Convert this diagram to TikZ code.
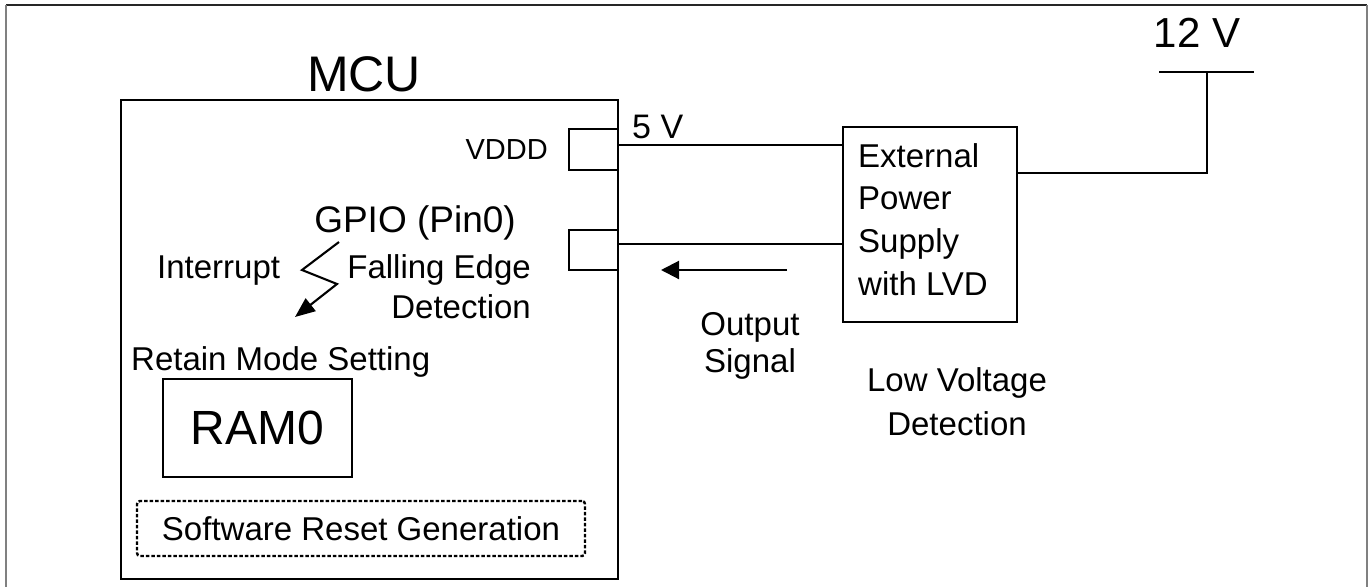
\documentclass[tikz,border=0pt]{standalone}
\usepackage{fontspec}
\setmainfont{Liberation Sans}
\usetikzlibrary{arrows.meta}
\begin{document}
\begin{tikzpicture}[x=1pt,y=-1pt,
  txt/.style={inner sep=0pt, font=\fontsize{33}{40}\selectfont},
  blk/.style={draw, line width=2.2pt, inner sep=0pt},
  pad/.style={draw, line width=2.1pt, inner sep=0pt, minimum width=49pt},
  wire/.style={line width=2.1pt},
  sigarrow/.style={line width=2.1pt, -{Triangle[length=18pt,width=18pt]}},
  boltarrow/.style={line width=2.1pt, line join=miter, -{Triangle[length=20pt,width=16pt]}}
]
\useasboundingbox (0,0) rectangle (1370,587);
% outer frame (open at bottom)
\draw[line width=1.2pt, black!85] (6,5) -- (1367,5);
\draw[line width=2pt, gray] (6,5) -- (6,587);
\draw[line width=2pt, gray] (1367,5) -- (1367,587);

% MCU
\node[blk, line width=2.8pt, minimum width=497pt, minimum height=479pt] (mcu) at (369.5,339.5) {};
\node[txt, font=\fontsize{50}{60}\selectfont, anchor=base] (mculbl) at (364,91) {MCU};

% pads
\node[pad, minimum height=41pt] (vdddpad) at (593.5,149.5) {};
\node[pad, minimum height=40pt] (gpiopad) at (593.5,250) {};
\node[txt, font=\fontsize{29}{35}\selectfont, anchor=base east] (vdddlbl) at (548,159) {VDDD};

\node[txt, font=\fontsize{37}{44}\selectfont, anchor=base] (gpiolbl) at (415,232) {GPIO (Pin0)};
\node[txt, anchor=base west] (intlbl) at (157,278) {Interrupt};
\node[txt, anchor=base east] (fall) at (531,278) {Falling Edge};
\node[txt, anchor=base east] (det) at (531,318) {Detection};

% lightning bolt
\coordinate (boltA) at (339,242);
\coordinate (boltB) at (302,270);
\coordinate (boltC) at (337,284);
\coordinate (boltD) at (295,317);
\draw[boltarrow] (boltA) -- (boltB) -- (boltC) -- (boltD);

\node[txt, anchor=base west] (retain) at (131,370) {Retain Mode Setting};
\node[blk, minimum width=189pt, minimum height=98pt, font=\fontsize{48}{56}\selectfont] (ram) at (257.5,428) {RAM0};
\node[draw, line width=2.4pt, dash pattern=on 3.5pt off 2pt, rounded corners=3pt,
      inner sep=0pt, minimum width=448pt, minimum height=55pt,
      font=\fontsize{33}{40}\selectfont] (swreset) at (361,528.5) {Software Reset Generation};

% power supply
\node[blk, minimum width=174pt, minimum height=195pt] (psu) at (930,224.5) {};
\node[txt, font=\fontsize{33}{42.7}\selectfont, align=left, anchor=north west] (psulbl) at (858,143)
  {External\\Power\\Supply\\with LVD};
\node[txt, font=\fontsize{33}{44}\selectfont, align=center, anchor=north] (lvd) at (957,367)
  {Low Voltage\\Detection};

% wires
\draw[wire] ([yshift=4.5pt]vdddpad.east) -- ([yshift=4.5pt]vdddpad.east -| psu.west);
\node[txt, font=\fontsize{34}{40}\selectfont, anchor=base west] (fivev) at (632,138) {5 V};
\draw[wire] ([yshift=6pt]gpiopad.east) -- ([yshift=6pt]gpiopad.east -| psu.west);

% output signal arrow
\coordinate (sigS) at (787,270);
\coordinate (sigE) at (661,270);
\draw[sigarrow] (sigS) -- (sigE);
\node[txt, align=center, font=\fontsize{33}{37}\selectfont, anchor=north] (outsig) at (750,312)
  {Output\\Signal};

% 12 V supply
\coordinate (vtap) at (1207,72);
\coordinate (vbarL) at (1159,72);
\coordinate (vbarR) at (1254,72);
\draw[wire] (vbarL) -- (vbarR);
\draw[wire] ([yshift=51.5pt]psu.east) -- ([yshift=51.5pt]psu.east -| vtap) -- (vtap);
\node[txt, font=\fontsize{42}{50}\selectfont, anchor=base] (twelve) at (1197,47) {12 V};
\end{tikzpicture}
\end{document}
